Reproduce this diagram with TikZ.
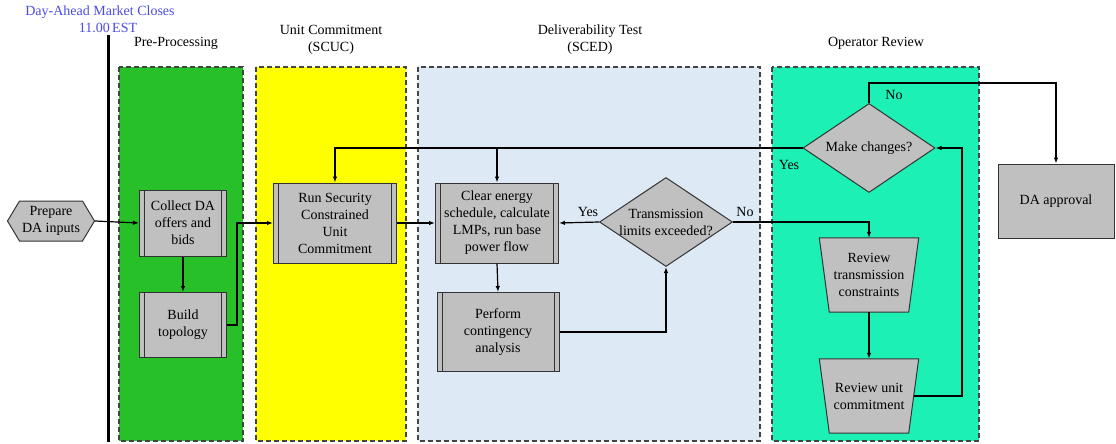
\documentclass[tikz,border=0pt]{standalone}
\usepackage{fontspec}
\setmainfont{Liberation Serif}
\usetikzlibrary{shapes.geometric,shapes.symbols,arrows.meta}
\definecolor{lgreen}{HTML}{28C028}
\definecolor{lyellow}{HTML}{FFFF00}
\definecolor{lblue}{HTML}{DDE9F5}
\definecolor{lteal}{HTML}{1DF0B4}
\definecolor{boxgray}{HTML}{C0C0C0}
\definecolor{boxborder}{HTML}{333333}
\definecolor{laneborder}{HTML}{444444}
\definecolor{titleblue}{HTML}{4B4BE6}
\begin{document}
\begin{tikzpicture}[x=1pt,y=-1pt,
  font=\fontsize{14}{17}\selectfont,
  lane/.style={draw=laneborder, dash pattern=on 5pt off 3pt, line width=1.2pt},
  proc/.style={draw=boxborder, fill=boxgray, line width=1pt, inner sep=0pt, align=center,
    path picture={\draw[boxborder,line width=1pt]
      ([xshift=5pt]path picture bounding box.north west) -- ([xshift=5pt]path picture bounding box.south west)
      ([xshift=-5pt]path picture bounding box.north east) -- ([xshift=-5pt]path picture bounding box.south east);}},
  plainbox/.style={draw=boxborder, fill=boxgray, line width=1pt, inner sep=0pt, align=center},
  dec/.style={diamond, draw=boxborder, fill=boxgray, line width=1pt, inner sep=0pt},
  trapframe/.style={rectangle, inner sep=0pt, minimum width=99pt, minimum height=74pt},
  trapfill/.style={draw=boxborder, fill=boxgray, line width=1pt, line join=miter},
  hexa/.style={signal, signal to=east and west, signal pointer angle=118, draw=boxborder, fill=boxgray,
    line width=1pt, inner sep=0pt, minimum width=87pt, minimum height=40pt},
  txt/.style={align=center, inner sep=0pt},
  conn/.style={line width=1.2pt, -{Latex[length=6pt,width=4.5pt]}},
  plainconn/.style={line width=1.2pt}
]
\useasboundingbox (0,0) rectangle (1116,444);

% lanes
\path[lane, fill=lgreen] (119,67) rectangle (243,441);
\path[lane, fill=lyellow] (256,67) rectangle (406,441);
\path[lane, fill=lblue] (418,67) rectangle (760,441);
\path[lane, fill=lteal] (772,67) rectangle (979,441);

% titles
\node[txt, text=titleblue] (t1) at (100,12) {Day-Ahead Market Closes};
\node[txt, text=titleblue] (t2) at (108,28) {11.00\,EST};
\draw[line width=3pt] (108,35) -- (108,442);
\node[txt] (h1) at (176,43) {Pre-Processing};
\node[txt] (h2) at (331,40) {Unit Commitment\\(SCUC)};
\node[txt] (h3) at (590,40) {Deliverability Test\\(SCED)};
\node[txt] (h4) at (876,43) {Operator Review};

% nodes
\node[hexa] (pda) at (51,221) {};
\node[txt] at (pda) {Prepare\\DA inputs};
\node[proc, minimum width=87pt, minimum height=66pt] (col) at (183,223) {Collect DA\\offers and\\bids};
\node[proc, minimum width=87pt, minimum height=65pt] (bt) at (183,325) {Build\\topology};
\node[proc, minimum width=123pt, minimum height=80pt] (rs) at (335,223) {Run Security\\Constrained\\Unit\\Commitment};
\node[proc, minimum width=123pt, minimum height=80pt] (ce) at (497,223) {Clear energy\\schedule, calculate\\LMPs, run base\\power flow};
\node[proc, minimum width=122pt, minimum height=79pt] (pc) at (498,332) {Perform\\contingency\\analysis};
\node[dec, minimum width=133pt, minimum height=89pt] (td) at (666,222) {};
\node[txt] at (td) {Transmission\\limits exceeded?};
\node[dec, minimum width=132pt, minimum height=89pt] (mc) at (869,148) {};
\node[txt] at (mc) {Make changes?};
\node[plainbox, minimum width=116pt, minimum height=74pt] (da) at (1056,201) {DA approval};

\node[trapframe] (rt) at (869,275) {};
\path[trapfill] (rt.north west) -- (rt.north east) -- ([xshift=-10pt]rt.south east) -- ([xshift=10pt]rt.south west) -- cycle;
\node[txt] (rtt) at (rt) {Review\\transmission\\constraints};
\node[trapframe] (ru) at (869,396) {};
\path[trapfill] (ru.north west) -- (ru.north east) -- ([xshift=-10pt]ru.south east) -- ([xshift=10pt]ru.south west) -- cycle;
\node[txt] (rut) at (ru) {Review unit\\commitment};
\coordinate (rue) at ([xshift=-5pt]ru.east);

\coordinate (bx) at (237,0);
\coordinate (rx) at (962,0);
\coordinate (ny) at (0,83);

% connectors
\draw[conn] (pda.east) -- (col.west);
\draw[conn] (col.south) -- (bt.north);
\draw[conn] (bt.east) -- (bt.east -| bx) |- (rs.west);
\draw[conn] (rs.east) -- (ce.west);
\draw[conn] (mc.west) -| (rs.north);
\draw[conn] (mc.west) -| (ce.north);
\draw[conn] (td.west) -- (ce.east);
\draw[conn] (td.east) -| (rt.north);
\draw[conn] (ce.south) -- (pc.north);
\draw[conn] (pc.east) -| (td.south);
\draw[conn] ([xshift=0pt]rt.south) -- (ru.north);
\draw[conn] (rue) -- (rue -| rx) |- (mc.east);
\draw[conn] (mc.north) -- (mc.north |- ny) -| (da.north);

% labels
\node[txt] (ly1) at (588,212) {Yes};
\node[txt] (ln1) at (745,212) {No};
\node[txt] (ly2) at (789,165) {Yes};
\node[txt] (ln2) at (894,95) {No};
\end{tikzpicture}
\end{document}
